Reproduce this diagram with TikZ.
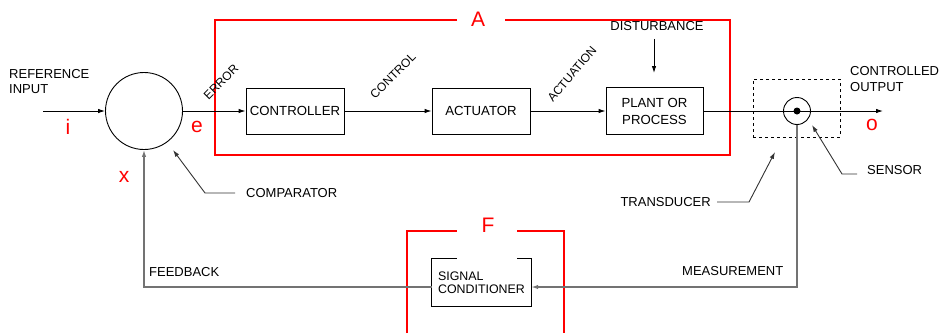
\documentclass[tikz,border=0pt]{standalone}
\usepackage{fontspec}
\setmainfont{Liberation Sans}
\usetikzlibrary{arrows.meta,calc}
\begin{document}
\begin{tikzpicture}[x=1pt,y=-1pt,
  lbl/.style={font=\fontsize{13}{15.5}\selectfont, inner sep=0pt, align=left},
  blk/.style={draw, line width=0.9pt, minimum width=98pt, minimum height=46pt, font=\fontsize{13.2}{17}\selectfont, align=center, inner sep=0pt},
  sig/.style={line width=0.9pt, -{Latex[length=7pt,width=4.5pt]}},
  lead/.style={line width=0.9pt, draw=black!80, -{Latex[length=7pt,width=4.5pt]}},
  feed/.style={line width=1.3pt, draw=black!55, -{Latex[length=7pt,width=4.5pt]}},
  redbox/.style={draw=red, line width=1.1pt},
  redl/.style={text=red, font=\fontsize{21}{21}\selectfont, inner sep=0pt},
  rot/.style={font=\fontsize{12}{12}\selectfont, inner sep=0pt},
]
\useasboundingbox (0,0) rectangle (941,333);

% red groups
\draw[redbox] (457,20) -- (215,20) -- (215,155) -- (730,155) -- (730,20) -- (505,20);
\node[redl] (A) at (478,19) {A};
\draw[redbox] (407,333) -- (407,231) -- (457,231);
\draw[redbox] (517,231) -- (564,231) -- (564,333);
\node[redl] (F) at (488,225) {F};

% blocks
\node[draw, circle, minimum size=77pt, line width=0.9pt, inner sep=0pt] (comp) at (144,111) {};
\node[blk] (ctrl) at (295,111) {CONTROLLER};
\node[blk] (act) at (481,111) {ACTUATOR};
\node[blk, minimum width=97pt, minimum height=47pt] (plant) at (654.5,111) {PLANT OR\\PROCESS};
\node[draw, dashed, minimum width=87pt, minimum height=58pt, line width=0.8pt, inner sep=0pt] (trans) at (796.5,108) {};
\node[draw, circle, minimum size=27pt, line width=0.9pt, inner sep=0pt] (sens) at (797,111) {};
\node[circle, fill, minimum size=7pt, inner sep=0pt] (dot) at (sens.center) {};
\node[minimum width=99pt, minimum height=47pt, inner sep=2pt, font=\fontsize{12.4}{13.5}\selectfont, align=left] (sc) at (481.5,282.5) {SIGNAL\\CONDITIONER};
\draw[line width=0.9pt] ($(sc.north west)+(25,0)$) -- (sc.north west) -- (sc.south west) -- (sc.south east) -- (sc.north east) -- ++(-14,0);

% main signal path
\coordinate (in) at (43,111);
\coordinate (out) at (883,111);
\draw[sig] (in) -- (comp.west);
\draw[sig] (comp.east) -- (ctrl.west);
\draw[sig] (ctrl.east) -- (act.west);
\draw[sig] (act.east) -- (plant.west);
\draw[sig] (plant.east) -- (out);

% disturbance
\node[lbl] (dist) at (657,26) {DISTURBANCE};
\coordinate (distend) at (654,73);
\draw[sig] (dist.south -| distend) ++(0,8) -- (distend);

% feedback path
\draw[feed] (sens.south) |- ([yshift=-4.5pt]sc.east);
\draw[feed] ([yshift=-4.5pt]sc.west) -| (comp.south);

% labels
\node[lbl, anchor=west] (ref) at (9,81.5) {REFERENCE\\INPUT};
\node[lbl, anchor=west] (cout) at (850,79) {CONTROLLED\\OUTPUT};
\node[lbl, anchor=west] (cmp) at (246,193) {COMPARATOR};
\node[lbl, anchor=west] (sen) at (867,170.5) {SENSOR};
\node[lbl, anchor=east] (trd) at (711,202) {TRANSDUCER};
\node[lbl, anchor=west] (fb) at (149,272) {FEEDBACK};
\node[lbl, anchor=west] (meas) at (682,271) {MEASUREMENT};

\node[rot, rotate=45] (err) at (221,82) {ERROR};
\node[rot, rotate=45] (ctl) at (393,76) {CONTROL};
\node[rot, rotate=50] (actn) at (572,74) {ACTUATION};

% leaders
\coordinate (cmptip) at (173,150);
\draw[lead] ([xshift=-11pt]cmp.west) -- ++(-30,0) -- (cmptip);
\coordinate (sentip) at (812,125);
\draw[lead] ([xshift=-10pt,yshift=-3.5pt]sen.west) -- ++(-15,0) -- (sentip);
\coordinate (trdtip) at (775,152);
\draw[lead] ([xshift=6pt]trd.east) -- ++(32,0) -- (trdtip);

% red signal letters
\node[redl] (li) at (68,127) {i};
\node[redl] (le) at (197,127) {e};
\node[redl] (lx) at (124,177) {x};
\node[redl] (lo) at (872,125) {o};
\end{tikzpicture}
\end{document}
